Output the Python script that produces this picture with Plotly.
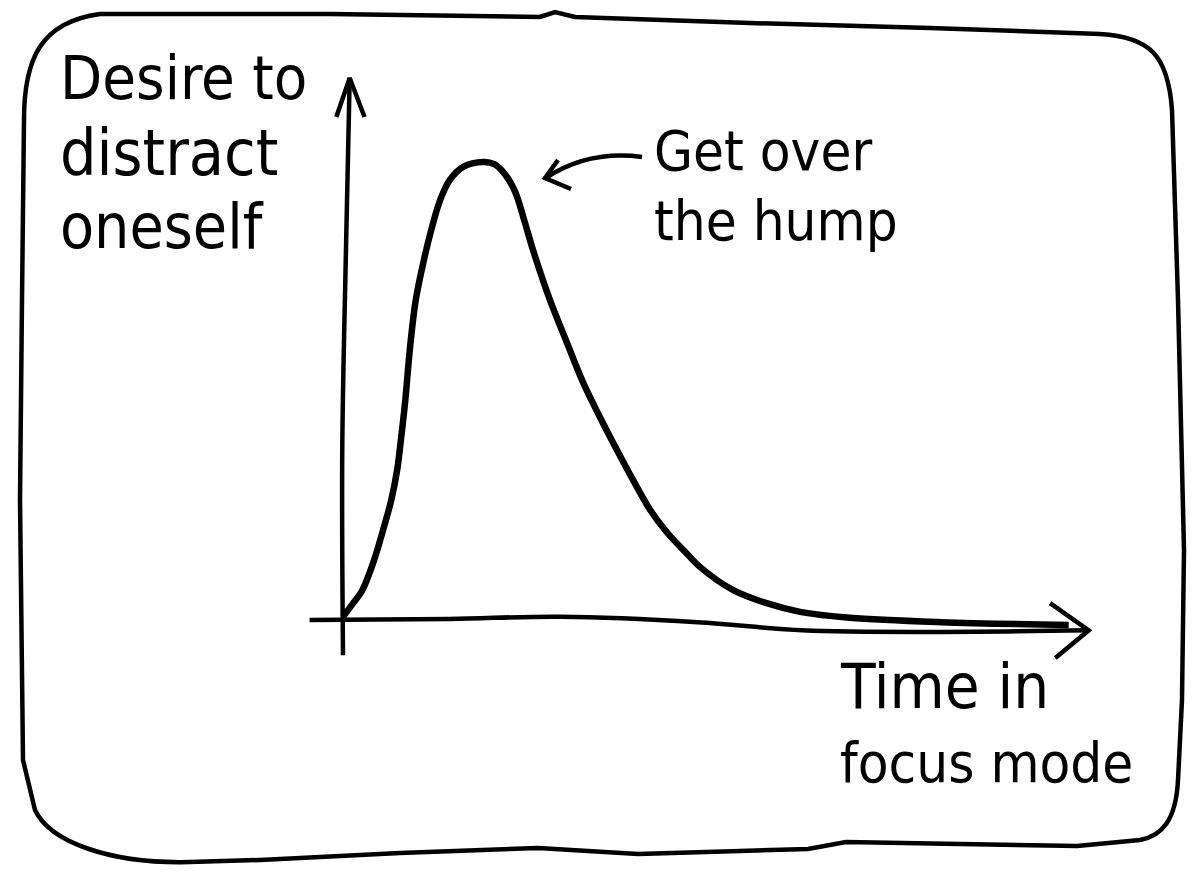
import plotly.graph_objects as go

# ---- data (time in focus mode vs desire to distract oneself) ----
time_vals = [0.0, 1.2, 2.6, 4.2, 5.4, 6.5, 7.3, 7.8, 8.4, 9.0, 9.8, 10.9, 11.9, 13.1,
             14.4, 16.2, 18.9, 20.4, 21.8, 23.2, 24.5, 25.6, 27.9, 30.2, 32.4, 34.6,
             36.9, 39.1, 41.4, 43.7, 46.1, 48.1, 52.6, 57.1, 61.6, 68.3, 80.6, 97.8]
desire_vals = [0.6, 2.8, 5.5, 11.1, 16.6, 22.1, 27.7, 33.2, 40.6, 49.8, 59.0, 66.4, 72.0, 77.5,
               81.2, 83.6, 84.5, 84.1, 82.3, 79.0, 73.4, 68.3, 59.0, 51.1, 43.7, 37.5,
               31.4, 25.8, 20.3, 16.1, 12.6, 9.8, 5.5, 3.1, 1.5, 0.4, -0.4, -0.9]

# hand-drawn axes (in data units)
xaxis_t = [-4.5, 14.4, 29.3, 47.8, 61.9, 80.6, 100.5]
xaxis_d = [0.0, 0.2, 0.6, -0.4, -1.9, -2.2, -1.9]
xarrow_t = [95.3, 100.5, 96.0]
xarrow_d = [3.1, -1.9, -7.0]
yaxis_t = [0.0, -0.1, 0.4, 0.9]
yaxis_d = [-6.5, 31.4, 68.3, 100.0]
yarrow_t = [-0.9, 0.9, 2.9]
yarrow_d = [92.8, 100.0, 92.8]

y_label = ["Desire to", "distract", "oneself"]
x_label = ["Time in", "focus mode"]
note = ["Get over", "the hump"]

OFF = 8                      # page body margin
W, H = 1200 - 2 * OFF, 882 - 2 * OFF
FONT = "DejaVu Sans Condensed, Liberation Sans Narrow, sans-serif"

fig = go.Figure()
fig.add_trace(go.Scatter(x=xaxis_t, y=xaxis_d, mode="lines",
                         line=dict(color="black", width=4.5, shape="spline"), hoverinfo="skip"))
fig.add_trace(go.Scatter(x=xarrow_t, y=xarrow_d, mode="lines",
                         line=dict(color="black", width=4.5), hoverinfo="skip"))
fig.add_trace(go.Scatter(x=yaxis_t, y=yaxis_d, mode="lines",
                         line=dict(color="black", width=4.5, shape="spline"), hoverinfo="skip"))
fig.add_trace(go.Scatter(x=yarrow_t, y=yarrow_d, mode="lines",
                         line=dict(color="black", width=4.5), hoverinfo="skip"))
fig.add_trace(go.Scatter(x=time_vals, y=desire_vals, mode="lines",
                         line=dict(color="black", width=6.5, shape="spline", smoothing=1.0),
                         hoverinfo="skip"))


def P(x, y):
    return f"{(x - OFF) / W:.5f},{1 - (y - OFF) / H:.5f}"


def path(cmds):
    out = []
    for c in cmds:
        op, pts = c[0], c[1:]
        out.append(op + " " + " ".join(P(*p) for p in pts))
    return " ".join(out) + " Z"


frame = [
    ("M", (24, 120)),
    ("C", (24, 60), (40, 22), (100, 14)),
    ("L", (330, 14)), ("L", (540, 17)), ("L", (555, 12)), ("L", (575, 17)),
    ("L", (750, 23)), ("L", (930, 28)), ("L", (1100, 34)),
    ("C", (1150, 37), (1168, 55), (1172, 110)),
    ("L", (1178, 300)), ("L", (1184, 550)), ("L", (1182, 700)), ("L", (1178, 780)),
    ("C", (1176, 820), (1162, 836), (1140, 840)),
    ("L", (1077, 846)), ("L", (960, 844)), ("L", (846, 842)), ("L", (808, 849)),
    ("L", (740, 851)), ("L", (638, 854)), ("L", (538, 848)), ("L", (400, 853)),
    ("L", (260, 860)), ("L", (190, 862)),
    ("C", (110, 864), (50, 842), (35, 810)),
    ("L", (23, 760)), ("L", (20, 500)), ("L", (22, 300)), ("L", (24, 120)),
]
shapes = [dict(type="path", xref="paper", yref="paper", path=path(frame),
               line=dict(color="black", width=4.5))]

# curved pointer arrow from the note to the hump
shapes.append(dict(type="path", xref="paper", yref="paper",
                   path=f"M {P(642,157)} Q {P(588,150)} {P(546,178)}",
                   line=dict(color="black", width=4.5)))
shapes.append(dict(type="path", xref="paper", yref="paper",
                   path=f"M {P(558,160)} L {P(545,178)} L {P(571,189)}",
                   line=dict(color="black", width=4.5)))

anns = []


def txt(s, x, y, size):
    anns.append(dict(text=s, x=(x - OFF) / W, y=1 - (y - OFF) / H, xref="paper", yref="paper",
                     xanchor="left", yanchor="middle", showarrow=False,
                     font=dict(family=FONT, size=size, color="black")))


for s, y, sz in zip(y_label, [78, 153, 226], [61, 64, 62]):
    txt(s, 58, y, sz)
for s, y, sz in zip(note, [150, 220], [56, 56]):
    txt(s, 652, y, sz)
for s, y, sz in zip(x_label, [686, 762], [63, 56]):
    txt(s, 838, y, sz)

fig.update_layout(
    width=W, height=H, margin=dict(l=0, r=0, t=0, b=0),
    paper_bgcolor="white", plot_bgcolor="white", showlegend=False,
    xaxis=dict(range=[(OFF - 343) / 7.42, (1200 - OFF - 343) / 7.42], visible=False, fixedrange=True),
    yaxis=dict(range=[(620 - (882 - OFF)) / 5.42, (620 - OFF) / 5.42], visible=False, fixedrange=True),
    shapes=shapes, annotations=anns,
)
fig.write_html("out.html", config={"displayModeBar": False})
